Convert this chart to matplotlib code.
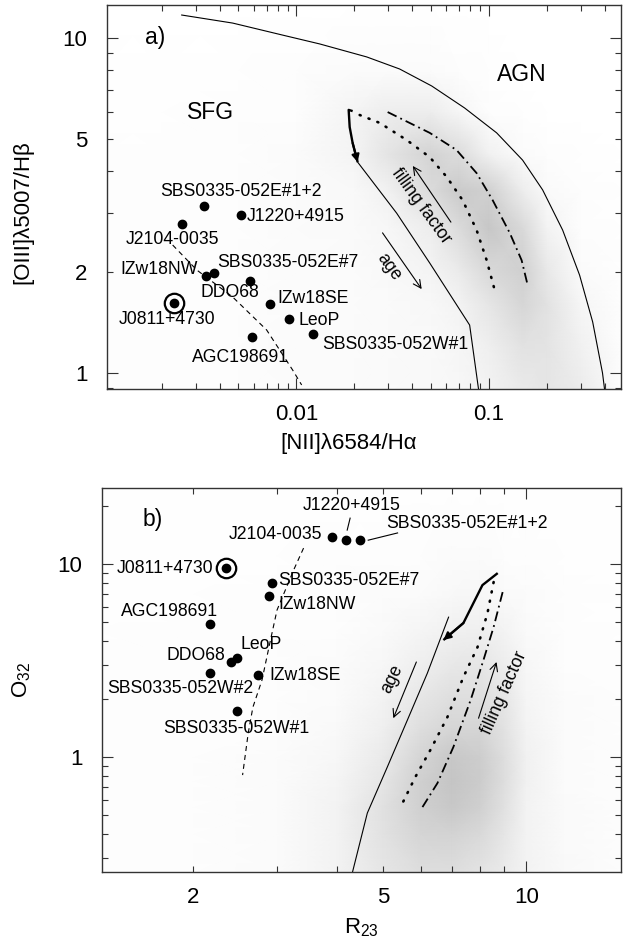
import numpy as np
import matplotlib
matplotlib.use('Agg')
import matplotlib.pyplot as plt
from matplotlib.colors import LinearSegmentedColormap

plt.rcParams['font.family'] = ['Liberation Sans', 'DejaVu Sans']
plt.rcParams['mathtext.fontset'] = 'custom'
plt.rcParams['mathtext.rm'] = 'Liberation Sans'
plt.rcParams['mathtext.it'] = 'Liberation Sans:italic'

# ---------------- panel a: [OIII]/Hb vs [NII]/Ha ----------------
names_a = ['SBS0335-052E#1+2', 'J1220+4915', 'J2104-0035', 'IZw18NW', 'DDO68',
           'SBS0335-052E#7', 'J0811+4730', 'IZw18SE', 'LeoP', 'AGC198691',
           'SBS0335-052W#1']
n2ha = [0.00330, 0.00514, 0.00254, 0.00338, 0.00372, 0.00572, 0.00231,
        0.00727, 0.00912, 0.00586, 0.01215]
o3hb = [3.15, 2.96, 2.79, 1.95, 1.99, 1.88, 1.62, 1.61, 1.45, 1.28, 1.31]

# outer demarcation curve
curve_a_x = [0.00254, 0.00467, 0.00849, 0.01321, 0.02317, 0.03436, 0.0504,
             0.0747, 0.1095, 0.1493, 0.1897, 0.241, 0.295, 0.345, 0.388, 0.398]
curve_a_y = [11.71, 11.08, 10.2, 9.60, 8.78, 8.08, 7.19, 6.18, 5.21, 4.32,
             3.52, 2.67, 1.96, 1.42, 1.0, 0.89]
# model tracks
thick_a_x = [0.01959, 0.01868, 0.01891, 0.01959, 0.0208]
thick_a_y = [6.05, 6.10, 5.42, 4.86, 4.26]
age_a_x = [0.0208, 0.03315, 0.0492, 0.0793, 0.0883]
age_a_y = [4.26, 3.00, 2.13, 1.39, 0.89]
dot_a_x = [0.02131, 0.02705, 0.03736, 0.0492, 0.06026, 0.0729, 0.0862, 0.0972, 0.1069]
dot_a_y = [5.89, 5.58, 4.96, 4.41, 3.85, 3.28, 2.67, 2.17, 1.77]
dd_a_x = [0.02977, 0.0492, 0.0678, 0.0862, 0.1044, 0.128, 0.1476, 0.1586]
dd_a_y = [6.01, 5.21, 4.63, 3.95, 3.28, 2.62, 2.17, 1.83]
dash_a_x = [0.00228, 0.00304, 0.00467, 0.00701, 0.00957, 0.01065]
dash_a_y = [2.41, 2.03, 1.686, 1.344, 1.02, 0.921]
# arrows (tail, head)
ff_arrow_a = [(0.0634, 2.82), (0.0402, 4.15)]
age_arrow_a = [(0.0280, 2.62), (0.0447, 1.78)]

# SDSS cloud density
cloud_a_x = [0.001, 0.002, 0.005, 0.01, 0.02, 0.03, 0.05, 0.07, 0.1, 0.15, 0.2, 0.3, 0.5]
cloud_a_y = [0.85, 1.2, 1.6, 2.0, 2.7, 3.5, 4.5, 6, 8, 13]
cloud_a = [
    [0.02, 0.02, 0.03, 0.04, 0.05, 0.06, 0.07, 0.09, 0.13, 0.22, 0.28, 0.22, 0.02],
    [0.02, 0.02, 0.03, 0.04, 0.05, 0.06, 0.07, 0.10, 0.18, 0.32, 0.30, 0.15, 0.01],
    [0.02, 0.02, 0.03, 0.04, 0.05, 0.06, 0.08, 0.13, 0.28, 0.45, 0.32, 0.10, 0.01],
    [0.02, 0.02, 0.03, 0.04, 0.05, 0.07, 0.12, 0.22, 0.42, 0.52, 0.25, 0.05, 0.01],
    [0.02, 0.02, 0.03, 0.04, 0.06, 0.09, 0.20, 0.40, 0.62, 0.42, 0.14, 0.03, 0.01],
    [0.02, 0.02, 0.03, 0.04, 0.07, 0.16, 0.40, 0.58, 0.52, 0.20, 0.06, 0.02, 0.01],
    [0.02, 0.02, 0.03, 0.04, 0.12, 0.30, 0.48, 0.38, 0.15, 0.04, 0.02, 0.01, 0.00],
    [0.01, 0.01, 0.02, 0.03, 0.12, 0.20, 0.20, 0.10, 0.03, 0.01, 0.00, 0.00, 0.00],
    [0.01, 0.01, 0.01, 0.02, 0.04, 0.05, 0.04, 0.02, 0.01, 0.00, 0.00, 0.00, 0.00],
    [0.00, 0.00, 0.00, 0.00, 0.00, 0.00, 0.00, 0.00, 0.00, 0.00, 0.00, 0.00, 0.00],
]

# ---------------- panel b: O32 vs R23 ----------------
names_b = ['J0811+4730', 'SBS0335-052E#7', 'IZw18NW', 'AGC198691', 'LeoP',
           'DDO68', 'SBS0335-052W#2', 'IZw18SE', 'SBS0335-052W#1',
           'J2104-0035', 'J1220+4915', 'SBS0335-052E#1+2']
r23 = [2.35, 2.93, 2.89, 2.17, 2.47, 2.40, 2.17, 2.74, 2.47, 3.92, 4.19, 4.48]
o32 = [9.53, 7.97, 6.83, 4.89, 3.26, 3.11, 2.72, 2.66, 1.73, 13.8, 13.3, 13.3]

thick_b_x = [8.71, 8.09, 7.38, 6.70]
thick_b_y = [8.98, 7.78, 4.95, 4.04]
age_b_x = [6.87, 6.20, 5.63, 5.11, 4.64, 4.32]
age_b_y = [5.31, 2.72, 1.555, 0.888, 0.513, 0.254]
dot_b_x = [8.54, 8.29, 7.90, 7.38, 6.83, 6.29, 5.85, 5.50]
dot_b_y = [8.07, 5.57, 3.71, 2.60, 1.61, 1.087, 0.788, 0.578]
dd_b_x = [8.92, 8.54, 8.13, 7.64, 7.03, 6.51, 6.00]
dd_b_y = [7.16, 4.72, 3.18, 1.97, 1.127, 0.733, 0.531]
dash_b_x = [3.41, 3.25, 3.00, 2.90, 2.79, 2.67, 2.61, 2.54]
dash_b_y = [12.1, 9.31, 5.78, 3.94, 2.51, 1.815, 1.33, 0.807]
lead_j1220_x = [4.27, 4.21]
lead_j1220_y = [17.3, 15.0]
lead_e12_x = [4.66, 5.37]
lead_e12_y = [13.3, 14.5]
age_arrow_b = [(5.88, 3.11), (5.26, 1.59)]
ff_arrow_b = [(7.94, 1.59), (8.66, 3.11)]

cloud_b_x = [1.25, 2, 3, 4, 5, 6, 7, 8, 9, 10, 12, 16]
cloud_b_y = [0.25, 0.4, 0.55, 0.75, 1.0, 1.4, 2.0, 3.0, 4.5, 7, 11, 25]
cloud_b = [
    [0.02, 0.02, 0.05, 0.14, 0.28, 0.36, 0.36, 0.30, 0.22, 0.13, 0.07, 0.03],
    [0.02, 0.02, 0.05, 0.14, 0.32, 0.46, 0.48, 0.42, 0.28, 0.14, 0.06, 0.03],
    [0.02, 0.02, 0.05, 0.14, 0.33, 0.52, 0.60, 0.52, 0.33, 0.14, 0.06, 0.02],
    [0.02, 0.02, 0.04, 0.11, 0.28, 0.52, 0.64, 0.56, 0.36, 0.16, 0.05, 0.02],
    [0.02, 0.02, 0.04, 0.09, 0.23, 0.46, 0.60, 0.55, 0.36, 0.16, 0.05, 0.02],
    [0.02, 0.02, 0.03, 0.07, 0.18, 0.36, 0.46, 0.46, 0.32, 0.14, 0.04, 0.02],
    [0.02, 0.02, 0.03, 0.05, 0.13, 0.27, 0.36, 0.36, 0.27, 0.11, 0.04, 0.02],
    [0.02, 0.02, 0.03, 0.04, 0.09, 0.18, 0.25, 0.27, 0.20, 0.09, 0.03, 0.02],
    [0.01, 0.02, 0.02, 0.03, 0.06, 0.11, 0.16, 0.18, 0.13, 0.06, 0.03, 0.01],
    [0.01, 0.01, 0.02, 0.03, 0.04, 0.05, 0.08, 0.09, 0.06, 0.04, 0.02, 0.01],
    [0.01, 0.01, 0.01, 0.02, 0.03, 0.03, 0.04, 0.04, 0.03, 0.02, 0.01, 0.01],
    [0.01, 0.01, 0.01, 0.01, 0.01, 0.01, 0.01, 0.01, 0.01, 0.01, 0.01, 0.01],
]

# label placement: (dx, dy) in points, horizontal alignment
lab_a = [(26.6, 10.8, 'center'), (4.3, -0.7, 'left'), (-6.5, -11.5, 'center'),
         (-5.8, 4.3, 'right'), (11.5, -14.0, 'center'), (-23, 13.7, 'left'),
         (-5, -12.2, 'center'), (5.8, 3.6, 'left'), (7.2, -1, 'left'),
         (-8.3, -14.4, 'center'), (7.2, -7.6, 'left')]
lab_b = [(-9.4, 0, 'right'), (4.3, 2.2, 'left'), (6.5, -5.8, 'left'),
         (-29, 9.4, 'center'), (2.9, 9.4, 'left'), (-4.3, 5, 'right'),
         (-21.6, -11.2, 'center'), (7.9, 0, 'left'), (-0.7, -12.6, 'center'),
         (-7.2, 2.2, 'right'), (4, 24.8, 'center'), (18.7, 12.2, 'left')]

grey = LinearSegmentedColormap.from_list('cloud', ['#ffffff', '#a4a4a4'])
LABEL_FS = 12.7
TICK_FS = 16


def style_axis(ax):
    for s in ax.spines.values():
        s.set_color('#333333')
        s.set_linewidth(1.0)
    ax.tick_params(which='both', direction='in', top=True, right=True,
                   labelsize=TICK_FS, width=0.8, color='#333333')
    ax.tick_params(which='major', length=8)
    ax.tick_params(which='minor', length=4)
    ax.tick_params(axis='x', which='both', pad=11)
    ax.tick_params(axis='y', which='both', pad=14)


def draw_points(ax, xs, ys, names, labs, ring_name):
    ax.plot(xs, ys, 'o', color='black', ms=6, zorder=5)
    for x, y, n, (dx, dy, ha) in zip(xs, ys, names, labs):
        ax.annotate(n, (x, y), xytext=(dx, dy), textcoords='offset points',
                    ha=ha, va='center', fontsize=LABEL_FS, zorder=6)
        if n == ring_name:
            ax.plot([x], [y], 'o', ms=14, mfc='none', mec='black', mew=1.6, zorder=5)


def arrow(ax, tail, head, style='->', lw=0.8, ms=14):
    ax.annotate('', xy=head, xytext=tail,
                arrowprops=dict(arrowstyle=style, lw=lw, color='black',
                                mutation_scale=ms, shrinkA=0, shrinkB=0))


fig = plt.figure(figsize=(6.23, 9.51), dpi=100)
ax1 = fig.add_axes([0.1717, 0.591, 0.8251, 0.4038])
ax2 = fig.add_axes([0.1637, 0.0831, 0.8331, 0.4038])

# ---- panel a ----
gx, gy = np.meshgrid(cloud_a_x, cloud_a_y)
ax1.pcolormesh(gx, gy, np.array(cloud_a), cmap=grey, vmin=0, vmax=1,
               shading='gouraud', zorder=0, rasterized=True)
ax1.plot(curve_a_x, curve_a_y, color='black', lw=0.8)
ax1.plot(age_a_x, age_a_y, color='black', lw=0.8)
ax1.plot(thick_a_x, thick_a_y, color='black', lw=1.7, solid_capstyle='butt')
arrow(ax1, (thick_a_x[-2], thick_a_y[-2]), (thick_a_x[-1], thick_a_y[-1]),
      style='-|>', lw=1.5, ms=11)
ax1.plot(dot_a_x, dot_a_y, color='black', lw=1.9, ls=(0, (0.4, 3.2)),
         dash_capstyle='round')
ax1.plot(dd_a_x, dd_a_y, color='black', lw=1.3, ls=(0, (5.5, 2.3, 1.0, 2.3)))
ax1.plot(dash_a_x, dash_a_y, color='black', lw=0.8, ls=(0, (4.5, 3.6)))
arrow(ax1, ff_arrow_a[0], ff_arrow_a[1])
arrow(ax1, age_arrow_a[0], age_arrow_a[1])
draw_points(ax1, n2ha, o3hb, names_a, lab_a, 'J0811+4730')

ax1.text(0.093, 0.914, 'a)', transform=ax1.transAxes, fontsize=16.5,
         ha='center', va='center')
ax1.text(0.202, 0.719, 'SFG', transform=ax1.transAxes, fontsize=16.5,
         ha='center', va='center')
ax1.text(0.807, 0.820, 'AGN', transform=ax1.transAxes, fontsize=16.5,
         ha='center', va='center')
ax1.text(0.611, 0.477, 'filling factor', transform=ax1.transAxes,
         fontsize=LABEL_FS, rotation=-54, ha='center', va='center')
ax1.text(0.549, 0.318, 'age', transform=ax1.transAxes,
         fontsize=LABEL_FS, rotation=-54, ha='center', va='center')

ax1.set_xscale('log')
ax1.set_yscale('log')
ax1.set_xlim(0.00104, 0.484)
ax1.set_ylim(0.896, 12.55)
ax1.set_xticks([0.01, 0.1])
ax1.set_xticklabels(['0.01', '0.1'])
ax1.set_xticks([k * d for d in (0.001, 0.01, 0.1) for k in range(2, 10)
                if 0.00104 < k * d < 0.484], minor=True)
ax1.set_xticklabels([], minor=True)
ax1.set_yticks([1, 10])
ax1.set_yticklabels(['1', '10'])
ym = [k * d for d in (0.1, 1) for k in range(2, 10) if 0.896 < k * d < 12.55]
ax1.set_yticks(ym, minor=True)
ax1.set_yticklabels(['2' if v == 2 else '5' if v == 5 else '' for v in ym], minor=True)
style_axis(ax1)
ax1.set_xlabel('[NII]\u03bb6584/H\u03b1', fontsize=16)
ax1.set_ylabel('[OIII]\u03bb5007/H\u03b2', fontsize=16)
ax1.xaxis.set_label_coords(0.471, -0.141)
ax1.xaxis.label.set_va('center')
ax1.yaxis.set_label_coords(-0.163, 0.461)
ax1.yaxis.label.set_va('center')

# ---- panel b ----
gx, gy = np.meshgrid(cloud_b_x, cloud_b_y)
ax2.pcolormesh(gx, gy, np.array(cloud_b), cmap=grey, vmin=0, vmax=1,
               shading='gouraud', zorder=0, rasterized=True)
ax2.plot(age_b_x, age_b_y, color='black', lw=0.8)
ax2.plot(thick_b_x, thick_b_y, color='black', lw=1.7, solid_capstyle='butt')
arrow(ax2, (thick_b_x[-2], thick_b_y[-2]), (thick_b_x[-1], thick_b_y[-1]),
      style='-|>', lw=1.5, ms=11)
ax2.plot(dot_b_x, dot_b_y, color='black', lw=1.9, ls=(0, (0.4, 3.2)),
         dash_capstyle='round')
ax2.plot(dd_b_x, dd_b_y, color='black', lw=1.3, ls=(0, (5.5, 2.3, 1.0, 2.3)))
ax2.plot(dash_b_x, dash_b_y, color='black', lw=0.8, ls=(0, (4.5, 3.6)))
ax2.plot(lead_j1220_x, lead_j1220_y, color='black', lw=0.8)
ax2.plot(lead_e12_x, lead_e12_y, color='black', lw=0.8)
arrow(ax2, age_arrow_b[0], age_arrow_b[1])
arrow(ax2, ff_arrow_b[0], ff_arrow_b[1])
draw_points(ax2, r23, o32, names_b, lab_b, 'J0811+4730')

ax2.text(0.098, 0.919, 'b)', transform=ax2.transAxes, fontsize=16.5,
         ha='center', va='center')
ax2.text(0.559, 0.503, 'age', transform=ax2.transAxes,
         fontsize=LABEL_FS, rotation=64, ha='center', va='center')
ax2.text(0.775, 0.466, 'filling factor', transform=ax2.transAxes,
         fontsize=LABEL_FS, rotation=66, ha='center', va='center')

ax2.set_xscale('log')
ax2.set_yscale('log')
ax2.set_xlim(1.288, 15.8)
ax2.set_ylim(0.254, 24.8)
ax2.set_xticks([10])
ax2.set_xticklabels(['10'])
xm = [k * d for d in (1, 10) for k in range(2, 10) if 1.288 < k * d < 15.8]
ax2.set_xticks(xm, minor=True)
ax2.set_xticklabels(['2' if v == 2 else '5' if v == 5 else '' for v in xm], minor=True)
ax2.set_yticks([1, 10])
ax2.set_yticklabels(['1', '10'])
ax2.set_yticks([k * d for d in (0.1, 1, 10) for k in range(2, 10)
                if 0.254 < k * d < 24.8], minor=True)
ax2.set_yticklabels([], minor=True)
style_axis(ax2)
ax2.set_xlabel('R$_{23}$', fontsize=16)
ax2.set_ylabel('O$_{32}$', fontsize=16)
ax2.xaxis.set_label_coords(0.5, -0.146)
ax2.xaxis.label.set_va('center')
ax2.yaxis.set_label_coords(-0.154, 0.5)
ax2.yaxis.label.set_va('center')

fig.savefig('out.png', dpi=100)
